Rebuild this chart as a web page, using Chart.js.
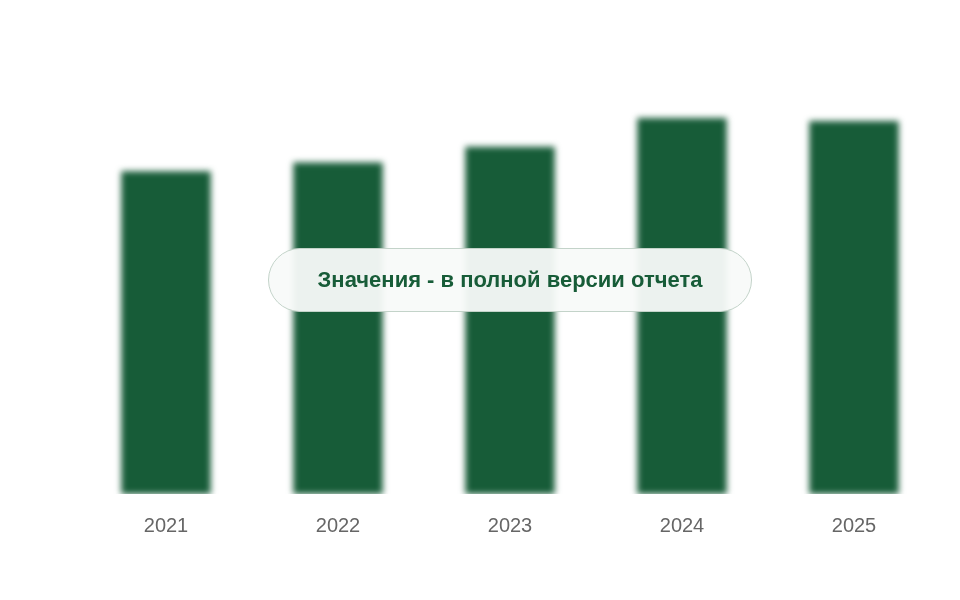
<!DOCTYPE html>
<html><head><meta charset="utf-8">
<script src="https://cdn.jsdelivr.net/npm/chart.js@4"></script>
<style>
html,body{margin:0;padding:0;background:#fff;}
#wrap{position:relative;width:960px;height:600px;}
#badge{position:absolute;left:268px;top:248px;width:482px;height:62px;border:1.5px solid #c3d3c9;border-radius:32px;background:rgba(248,250,249,0.95);display:flex;align-items:center;justify-content:center;font:bold 22px "Liberation Sans",Arial,sans-serif;color:#175c38;}
</style></head><body>
<div id="wrap"><canvas id="c" width="960" height="600"></canvas>
<div id="badge">Значения - в полной версии отчета</div></div>
<script>
const categories = ["2021","2022","2023","2024","2025"];
const values = [327, 336, 352, 381, 378];
const blurPlugin = {
  id:'blur',
  beforeDatasetsDraw(chart){chart.ctx.save();chart.ctx.filter='blur(3px)';},
  afterDatasetsDraw(chart){chart.ctx.restore();}
};
new Chart(document.getElementById('c'),{
  type:'bar',
  data:{labels:categories,datasets:[{data:values,backgroundColor:'#175c38',barPercentage:0.52,categoryPercentage:1}]},
  options:{
    responsive:false,animation:false,
    layout:{padding:{left:80,right:20,top:50,bottom:50}},
    plugins:{legend:{display:false},tooltip:{enabled:false}},
    scales:{
      x:{grid:{display:false},border:{display:false},ticks:{color:'#666',font:{size:20,family:'Liberation Sans, Arial'},padding:12}},
      y:{display:false,min:0,max:450}
    }
  },
  plugins:[blurPlugin]
});
</script></body></html>
